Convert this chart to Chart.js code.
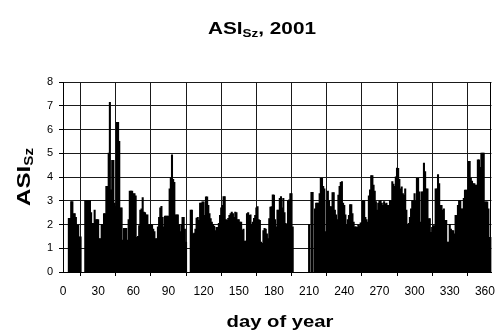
<!DOCTYPE html>
<html>
<head>
<meta charset="utf-8">
<script src="https://cdn.jsdelivr.net/npm/chart.js@4.4.1/dist/chart.umd.min.js"></script>
<style>
  body { margin: 0; background: #fff; }
  canvas { display: block; }
</style>
</head>
<body>
<canvas id="asiChart" width="503" height="333"></canvas>
<script>
// daily ASI_Sz values, day 1 .. 365 (null = no data)
const asiValues = [
  null, null, null, null, 2.25, 2.25, 2.96, 2.96, 2.46, 2.46,
  2.3, 1.97, 1.97, 1.48, 1.48, null, null, null, 3.0, 3.0,
  3.0, 3.0, 3.0, 2.5, 2.04, 2.04, 2.6, 2.2, 2.2, 2.2,
  1.4, 1.4, 2.0, 2.0, 2.45, 2.45, 3.6, 3.6, 5.0, 7.14,
  3.45, 4.7, 4.7, 2.9, 2.75, 6.3, 6.3, 5.5, 2.7, 2.7,
  1.34, 1.83, 1.83, 1.83, 1.34, 2.2, 3.4, 3.4, 3.4, 3.3,
  3.3, 3.2, 1.45, 1.5, 1.95, 2.6, 2.66, 3.13, 2.52, 2.5,
  2.4, 2.4, 2.0, 2.0, 2.0, 1.97, 1.8, 1.7, 1.4, 1.4,
  1.9, 2.3, 2.7, 2.76, 2.3, 1.9, 2.35, 2.35, 2.35, 2.35,
  3.5, 3.97, 4.93, 3.9, 3.77, 2.4, 2.4, 2.4, 2.0, 1.7,
  2.0, 2.3, 2.3, 1.8, 1.25, null, null, null, 2.6, 2.6,
  1.6, 1.63, 1.8, 2.27, 2.3, 2.17, 2.9, 2.9, 2.95, 2.95,
  2.38, 3.16, 3.16, 2.8, 2.46, 2.24, 2.1, 2.0, 1.93, 1.74,
  1.88, 1.88, 2.04, 2.38, 2.7, 2.8, 3.17, 3.17, 2.2, 2.17,
  2.25, 2.38, 2.45, 2.52, 2.46, 2.3, 2.52, 2.5, 2.2, 2.2,
  2.1, 2.1, 1.76, 1.8, 1.3, 1.3, 2.45, 2.5, 2.38, 2.4,
  2.0, 2.1, 2.25, 2.38, 2.7, 2.75, 2.2, 2.17, 1.25, 1.2,
  1.74, 1.83, 1.8, 1.6, 1.4, 2.24, 2.73, 2.75, 3.24, 3.23,
  2.2, 1.9, 2.6, 2.6, 3.1, 3.17, 2.7, 3.1, 2.5, 2.04,
  2.0, 3.0, 3.03, 3.3, 3.3, 1.9, null, null, null, null,
  null, null, null, null, null, null, null, null, null, 2.0,
  null, 3.35, 3.35, null, 2.66, 2.9, 2.9, 2.9, 3.3, 3.94,
  3.94, 3.6, 3.5, 1.7, 3.0, 3.4, 3.0, 2.75, 2.75, 3.34,
  3.34, 2.6, 2.4, 2.2, 3.23, 3.6, 3.77, 3.8, 2.9, 2.8,
  2.4, 2.0, 2.2, 2.38, 2.83, 2.83, 2.46, 2.1, 1.9, 1.9,
  1.88, 1.97, 1.95, 2.07, 2.07, 3.0, 3.0, 2.3, 2.2, 2.1,
  3.2, 3.45, 4.06, 4.06, 3.66, 3.4, 2.96, 2.6, 2.9, 2.97,
  3.0, 2.9, 2.8, 2.96, 2.87, 2.9, 2.8, 2.8, 3.0, 3.0,
  3.8, 3.7, 3.6, 4.0, 4.37, 4.36, 3.9, 3.5, 3.58, 3.3,
  3.23, 3.5, 2.6, 2.0, 2.04, 2.3, 2.66, 3.0, 3.0, 3.3,
  2.97, 3.94, 3.94, 3.37, 2.1, 3.37, 3.37, 4.58, 4.22, 3.5,
  3.5, 2.24, 2.24, 1.67, 1.88, 1.95, 1.95, 3.5, 3.5, 4.1,
  3.72, 2.8, 2.8, 2.6, 2.66, 2.17, 2.17, 1.25, 1.25, 2.0,
  1.8, 1.74, 1.74, 1.6, 2.38, 2.38, 2.8, 3.0, 3.0, 2.66,
  2.66, 3.1, 3.44, 3.44, 3.44, 4.65, 4.65, 3.94, 3.82, 3.72,
  3.72, 3.65, 3.65, 4.72, 4.72, 4.4, 5.0, 5.0, 5.0, 2.95,
  2.95, 2.95, 2.66, 1.46, 1.46
];
const days = asiValues.map((v, i) => i + 1);

const FONT = "'Liberation Sans', Arial, Helvetica, sans-serif";

// text with a subscript, optionally rotated, stretched to a given width
function drawSubText(c, parts, cx, cy, angle, width) {
  c.save();
  let total = 0;
  parts.forEach(p => {
    c.font = 'bold ' + p[1] + 'px ' + FONT;
    total += c.measureText(p[0]).width;
  });
  c.translate(cx, cy);
  c.rotate(angle);
  c.scale(width / total, 1);
  c.fillStyle = '#000';
  c.textBaseline = 'alphabetic';
  let x = -total / 2;
  parts.forEach(p => {
    c.font = 'bold ' + p[1] + 'px ' + FONT;
    c.fillText(p[0], x, p[2]);
    x += c.measureText(p[0]).width;
  });
  c.restore();
}

const titlesPlugin = {
  id: 'titles',
  afterDraw(chart) {
    const c = chart.ctx;
    const a = chart.chartArea;
    c.save();
    c.strokeStyle = '#000';
    c.lineWidth = 1;
    c.beginPath();
    c.moveTo(Math.round(a.right) - 0.5, a.top);
    c.lineTo(Math.round(a.right) - 0.5, a.bottom);
    c.stroke();
    c.restore();

    drawSubText(c, [['ASI', 17, 0], ['Sz', 11, 3], [', 2001', 17, 0]], 262, 33.5, 0, 108);
    drawSubText(c, [['ASI', 19, 0], ['Sz', 12, 3]], 30, 177, -Math.PI / 2, 58);
    drawSubText(c, [['day of year', 17, 0]], 280, 327, 0, 107);
  }
};

new Chart(document.getElementById('asiChart'), {
  type: 'bar',
  data: {
    datasets: [{
      data: days.map((d, i) => ({ x: d, y: asiValues[i] })),
      backgroundColor: '#000',
      borderWidth: 0,
      barPercentage: 1,
      categoryPercentage: 1,
      inflateAmount: 0.45
    }]
  },
  options: {
    responsive: false,
    animation: false,
    layout: { padding: { left: 0, right: 6, top: 82, bottom: 0 } },
    plugins: { legend: { display: false }, tooltip: { enabled: false }, title: { display: false } },
    scales: {
      x: {
        type: 'linear',
        min: 0,
        max: 365.6,
        offset: false,
        grid: { color: '#1a1a1a', tickLength: 4, tickColor: '#000' },
        border: { color: '#000' },
        ticks: { stepSize: 30, includeBounds: false, autoSkip: false, maxRotation: 0, color: '#000', padding: 8, font: { family: FONT, size: 12 } },
        afterFit: s => { s.height = 61; }
      },
      y: {
        min: 0,
        max: 8,
        grid: { color: '#1a1a1a', tickLength: 4, tickColor: '#000' },
        border: { color: '#000' },
        ticks: { stepSize: 1, color: '#000', padding: 6, font: { family: FONT, size: 11 } },
        afterFit: s => { s.width = 63; }
      }
    }
  },
  plugins: [titlesPlugin]
});
</script>
</body>
</html>
